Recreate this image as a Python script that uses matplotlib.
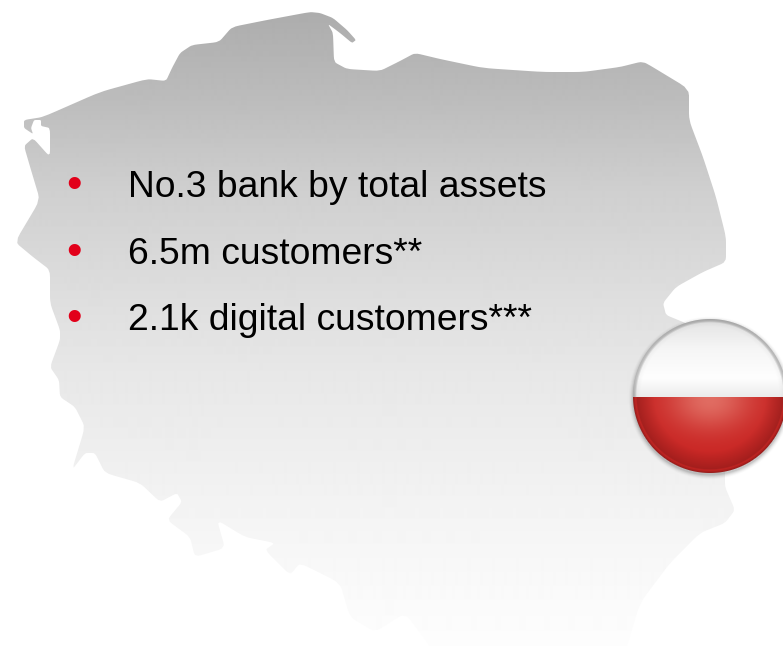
import numpy as np
import matplotlib
matplotlib.use('Agg')
import matplotlib.pyplot as plt
from matplotlib.patches import Polygon

plt.rcParams['font.family'] = ['Liberation Sans', 'DejaVu Sans']

W, H = 783, 646

labels = ['No.3 bank by total assets', '6.5m customers**', '2.1k digital customers***']
label_y = [197, 264, 330]

# map outline (pixels)
map_x = [24, 43, 100, 147, 166, 172, 180, 192, 219, 232, 267, 310, 320, 333, 347, 356, 352, 340, 328,
         333, 334, 347, 380, 400, 415, 440, 483, 543, 583, 620, 640, 646, 689, 689, 703, 716,
         726, 726, 703, 676, 663, 666, 683, 700, 725, 725, 735, 725, 700, 670, 640, 627, 620,
         436, 430, 405, 375, 350, 340, 300, 290, 265, 275, 245, 217, 225, 195, 190, 167, 182, 177,
         160, 140, 105, 95, 85, 72, 85, 75, 60, 59, 50, 60, 60, 50, 50, 33, 15, 40, 31, 24,
         33, 50, 50, 41, 41, 34, 31, 33, 24]
map_y = [120, 117, 92, 79, 81, 68, 53, 45, 42, 27, 20, 12, 13, 18, 30, 40, 43, 33, 24,
         33, 62, 69, 71, 61, 53, 59, 68, 72, 72, 67, 62, 63, 89, 120, 157, 197,
         237, 262, 272, 287, 303, 315, 322, 330, 470, 487, 510, 523, 533, 563, 603, 646, 670,
         670, 646, 613, 632, 617, 583, 563, 575, 550, 543, 537, 520, 548, 557, 537, 520, 502, 493,
         502, 483, 473, 453, 453, 470, 427, 407, 397, 380, 367, 340, 330, 303, 270, 257, 242, 200, 170, 146,
         138, 157, 128, 126, 120, 120, 128, 134, 128]

# grey of the map by height
grey_y = [10, 100, 190, 290, 370, 450, 530, 600, 646]
grey_v = [172, 188, 207, 221, 231, 238, 245, 250, 253]


def soften(xs, ys, cut=0.12, passes=2):
    pts = np.column_stack([xs, ys]).astype(float)
    for i in range(passes):
        nxt = np.roll(pts, -1, axis=0)
        a = pts + (nxt - pts) * cut
        b = pts + (nxt - pts) * (1 - cut)
        pts = np.column_stack([a, b]).reshape(-1, 2)
    return pts


fig = plt.figure(figsize=(W / 100, H / 100), dpi=100)
ax = fig.add_axes([0, 0, 1, 1])
ax.set_xlim(0, W)
ax.set_ylim(H, 0)
ax.axis('off')

rows = np.arange(H) + 0.5
col = np.interp(rows, grey_y, grey_v).reshape(-1, 1) / 255
grad = ax.imshow(col, cmap='gray', vmin=0, vmax=1, extent=(0, W, H, 0), aspect='auto',
                 interpolation='bilinear', zorder=1)
outline = Polygon(soften(map_x, map_y), closed=True, transform=ax.transData,
                  facecolor='none', edgecolor='none')
ax.add_patch(outline)
grad.set_clip_path(outline)

# flag badge
cx, cy, r = 710, 396, 77
xx, yy = np.meshgrid(np.arange(W) + 0.5, np.arange(H) + 0.5)
d = np.hypot(xx - cx, yy - cy) / r
t = (yy - (cy - r)) / (2 * r)

white = np.interp(t, [0, 0.05, 0.2, 0.38, 0.5], [225, 232, 246, 254, 236])
white = white * np.interp(d, [0, 0.9, 0.95, 0.975, 1], [1, 1, 0.97, 0.78, 0.72])

glow = np.exp(-(((xx - cx) / 42) ** 2 + ((yy - cy - 4) / 30) ** 2))
red_edge = np.interp(d, [0, 0.72, 0.9, 0.945, 0.965, 1], [1, 0.98, 0.84, 0.8, 0.93, 0.72])
red = np.dstack([(205 + 20 * glow) * red_edge, (38 + 70 * glow) * red_edge, (36 + 62 * glow) * red_edge])

is_red = yy > cy + 1
rgba = np.zeros((H, W, 4))
for k in range(3):
    rgba[..., k] = np.where(is_red, red[..., k], white) / 255
rgba[..., 3] = np.clip((1 - d) * r + 0.5, 0, 1)

# soft shadow under the badge
ds = np.hypot(xx - cx, yy - cy - 2) / r
shadow = np.zeros((H, W, 4))
shadow[..., 3] = np.clip((1.07 - ds) / 0.07, 0, 1) ** 2 * 0.22
ax.imshow(shadow, extent=(0, W, H, 0), aspect='auto', interpolation='bilinear', zorder=3)
ax.imshow(rgba, extent=(0, W, H, 0), aspect='auto', interpolation='bilinear', zorder=4)
ax.set_xlim(0, W)
ax.set_ylim(H, 0)

for lab, y in zip(labels, label_y):
    ax.text(128, y, lab, fontsize=26.8, color='black', va='baseline', ha='left', zorder=5)
    ax.text(74, y + 1, '\u2022', fontsize=32, color='#e2001a', va='baseline', ha='center', zorder=5)

fig.savefig('out.png', dpi=100, facecolor='white')
